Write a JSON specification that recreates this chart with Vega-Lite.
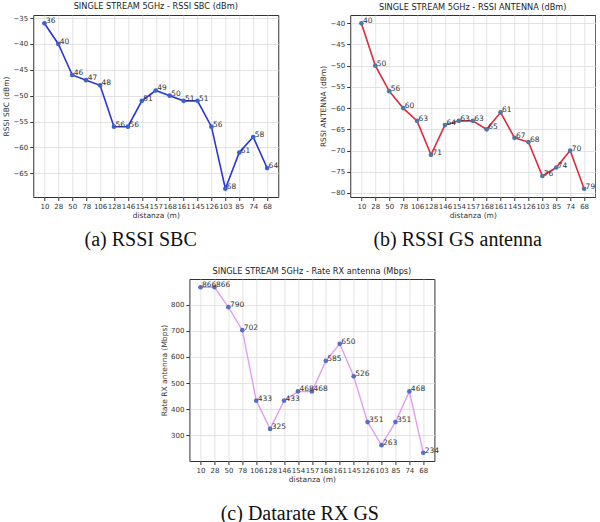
{
  "$schema": "https://vega.github.io/schema/vega-lite/v6.json",
  "padding": {"left": 2, "top": 1, "right": 0, "bottom": 0},
  "background": "white",
  "data": {"values": [
    {"d": "10", "a": -36, "la": "36", "b": -40, "lb": "40", "c": 866},
    {"d": "28", "a": -40, "la": "40", "b": -50, "lb": "50", "c": 866},
    {"d": "50", "a": -46, "la": "46", "b": -56, "lb": "56", "c": 790},
    {"d": "78", "a": -47, "la": "47", "b": -60, "lb": "60", "c": 702},
    {"d": "106", "a": -48, "la": "48", "b": -63, "lb": "63", "c": 433},
    {"d": "128", "a": -56, "la": "56", "b": -71, "lb": "71", "c": 325},
    {"d": "146", "a": -56, "la": "56", "b": -64, "lb": "64", "c": 433},
    {"d": "154", "a": -51, "la": "51", "b": -63, "lb": "63", "c": 468},
    {"d": "157", "a": -49, "la": "49", "b": -63, "lb": "63", "c": 468},
    {"d": "168", "a": -50, "la": "50", "b": -65, "lb": "65", "c": 585},
    {"d": "161", "a": -51, "la": "51", "b": -61, "lb": "61", "c": 650},
    {"d": "145", "a": -51, "la": "51", "b": -67, "lb": "67", "c": 526},
    {"d": "126", "a": -56, "la": "56", "b": -68, "lb": "68", "c": 351},
    {"d": "103", "a": -68, "la": "68", "b": -76, "lb": "76", "c": 263},
    {"d": "85", "a": -61, "la": "61", "b": -74, "lb": "74", "c": 351},
    {"d": "74", "a": -58, "la": "58", "b": -70, "lb": "70", "c": 468},
    {"d": "68", "a": -64, "la": "64", "b": -79, "lb": "79", "c": 234}
  ]},
  "vconcat": [
    {
      "hconcat": [
        {
          "title": {"text": "(a) RSSI SBC", "orient": "bottom", "anchor": "middle", "font": "Liberation Serif", "fontSize": 20, "fontWeight": "normal", "color": "#111", "offset": 10},
          "vconcat": [
            {
              "width": 245, "height": 182,
              "title": {"text": "SINGLE STREAM 5GHz - RSSI SBC (dBm)"},
              "encoding": {
                "x": {"field": "d", "type": "ordinal", "sort": null, "scale": {"type": "point", "padding": 0.8}, "axis": {"title": "distanza (m)", "labelAngle": 0}},
                "y": {"field": "a", "type": "quantitative", "scale": {"domain": [-69.6, -34.4], "nice": false, "zero": false}, "axis": {"title": "RSSI SBC (dBm)", "values": [-65, -60, -55, -50, -45, -40, -35]}}
              },
              "layer": [
                {"mark": {"type": "line", "color": "#2a34d8", "strokeWidth": 1.6}},
                {"mark": {"type": "point", "filled": true, "color": "#3a62cc", "size": 22, "opacity": 1}},
                {"mark": {"type": "text", "align": "left", "baseline": "alphabetic", "dx": 1.5, "fontSize": 7.5, "color": "#333"}, "encoding": {"text": {"field": "la"}}}
              ]
            }
          ]
        },
        {
          "title": {"text": "(b) RSSI GS antenna", "orient": "bottom", "anchor": "middle", "font": "Liberation Serif", "fontSize": 20, "fontWeight": "normal", "color": "#111", "offset": 10},
          "vconcat": [
            {
              "width": 245, "height": 182,
              "title": {"text": "SINGLE STREAM 5GHz - RSSI ANTENNA (dBm)"},
              "encoding": {
                "x": {"field": "d", "type": "ordinal", "sort": null, "scale": {"type": "point", "padding": 0.8}, "axis": {"title": "distanza (m)", "labelAngle": 0}},
                "y": {"field": "b", "type": "quantitative", "scale": {"domain": [-80.95, -38.05], "nice": false, "zero": false}, "axis": {"title": "RSSI ANTENNA (dBm)", "values": [-80, -75, -70, -65, -60, -55, -50, -45, -40]}}
              },
              "layer": [
                {"mark": {"type": "line", "color": "#e0283c", "strokeWidth": 1.6}},
                {"mark": {"type": "point", "filled": true, "color": "#4a78a8", "size": 22, "opacity": 1}},
                {"mark": {"type": "text", "align": "left", "baseline": "alphabetic", "dx": 1.5, "fontSize": 7.5, "color": "#333"}, "encoding": {"text": {"field": "lb"}}}
              ]
            }
          ]
        }
      ],
      "spacing": 40
    },
    {
      "title": {"text": "(c) Datarate RX GS", "orient": "bottom", "anchor": "middle", "font": "Liberation Serif", "fontSize": 20, "fontWeight": "normal", "color": "#111", "offset": 20},
      "vconcat": [
        {
          "width": 245, "height": 182,
          "title": {"text": "SINGLE STREAM 5GHz - Rate RX antenna (Mbps)"},
          "encoding": {
            "x": {"field": "d", "type": "ordinal", "sort": null, "scale": {"type": "point", "padding": 0.8}, "axis": {"title": "distanza (m)", "labelAngle": 0}},
            "y": {"field": "c", "type": "quantitative", "scale": {"domain": [202.4, 897.6], "nice": false, "zero": false}, "axis": {"title": "Rate RX antenna (Mbps)", "values": [300, 400, 500, 600, 700, 800]}}
          },
          "layer": [
            {"mark": {"type": "line", "color": "#e49cf0", "strokeWidth": 1.4}},
            {"mark": {"type": "point", "filled": true, "color": "#5570c0", "size": 22, "opacity": 1}},
            {"mark": {"type": "text", "align": "left", "baseline": "alphabetic", "dx": 1.5, "fontSize": 7.5, "color": "#333"}, "encoding": {"text": {"field": "c"}}}
          ]
        }
      ]
    }
  ],
  "spacing": 16,
  "center": true,
  "config": {
    "font": "DejaVu Sans",
    "view": {"stroke": "#333", "strokeWidth": 1},
    "axis": {"grid": true, "gridColor": "#dcdcdc", "gridWidth": 0.8, "domain": false, "tickColor": "#333", "tickSize": 3.5, "labelFontSize": 7, "labelColor": "#333", "titleFontSize": 7.5, "titleFontWeight": "normal", "titleColor": "#333", "labelPadding": 2, "titlePadding": 2},
    "title": {"fontSize": 8.2, "fontWeight": "normal", "color": "#222", "offset": 3}
  }
}
